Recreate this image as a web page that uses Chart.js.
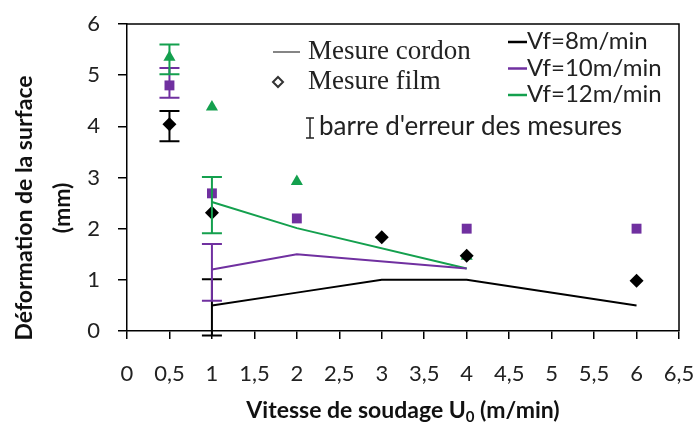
<!DOCTYPE html>
<html>
<head>
<meta charset="utf-8">
<script src="https://cdn.jsdelivr.net/npm/chart.js@4.4.1/dist/chart.umd.min.js"></script>
<style>
  html, body { margin: 0; padding: 0; background: #fff; }
  #wrap { width: 696px; height: 424px; }
</style>
</head>
<body>
<div id="wrap"><canvas id="myChart" width="696" height="424"></canvas></div>
<script>
// surface deformation vs welding speed, one colour per wire feed speed

const seriesNames = ['Vf=8m/min', 'Vf=10m/min', 'Vf=12m/min'];
const seriesColors = ['#000000', '#7030a0', '#14a04e'];

// "Mesure cordon" lines
const cordonX8 = [1, 2, 3, 4, 6];
const cordonY8 = [0.5, 0.75, 1.0, 1.0, 0.5];
const cordonX10 = [1, 2, 4];
const cordonY10 = [1.2, 1.5, 1.22];
const cordonX12 = [1, 2, 4];
const cordonY12 = [2.52, 2.01, 1.22];

// "Mesure film" points
const filmX8 = [0.5, 1, 3, 4, 6];
const filmY8 = [4.04, 2.31, 1.83, 1.47, 0.98];
const filmX10 = [0.5, 1, 2, 4, 6];
const filmY10 = [4.8, 2.69, 2.2, 2.0, 2.0];
const filmX12 = [0.5, 1, 2, 4];
const filmY12 = [5.35, 4.38, 2.92, 1.46];

// error bars: x, low, high, series index
const errX = [0.5, 0.5, 0.5, 1, 1, 1];
const errLow = [3.71, 4.56, 5.02, -0.09, 0.59, 1.91];
const errHigh = [4.3, 5.14, 5.6, 1.01, 1.7, 3.01];
const errSeries = [0, 1, 2, 0, 1, 2];

const xMin = 0, xMax = 6.5, xStep = 0.5;
const yMin = 0, yMax = 6, yStep = 1;

function pts(xs, ys) {
    return xs.map((x, i) => ({ x: x, y: ys[i] }));
}

const tickFont = { family: 'Lato', size: 22 };

function noPad(s) {
    s.paddingLeft = 0; s.paddingRight = 0;
    s.paddingTop = 0; s.paddingBottom = 0;
}

const errorBars = {
    id: 'errorBars',
    afterDatasetsDraw(chart) {
        const ctx = chart.ctx;
        const xs = chart.scales.x, ys = chart.scales.y;
        ctx.save();
        ctx.lineWidth = 2;
        errX.forEach((x, i) => {
            const px = xs.getPixelForValue(x);
            const top = ys.getPixelForValue(errHigh[i]);
            const bot = ys.getPixelForValue(errLow[i]);
            ctx.strokeStyle = seriesColors[errSeries[i]];
            ctx.beginPath();
            ctx.moveTo(px, top); ctx.lineTo(px, bot);
            ctx.moveTo(px - 10, top); ctx.lineTo(px + 10, top);
            ctx.moveTo(px - 10, bot); ctx.lineTo(px + 10, bot);
            ctx.stroke();
        });
        ctx.restore();
    }
};

const annotations = {
    id: 'annotations',
    afterDraw(chart) {
        const ctx = chart.ctx;
        const a = chart.chartArea;
        ctx.save();

        // frame top and right
        ctx.strokeStyle = '#000';
        ctx.lineWidth = 1.5;
        ctx.beginPath();
        ctx.moveTo(a.left, a.top); ctx.lineTo(a.right, a.top); ctx.lineTo(a.right, a.bottom);
        ctx.stroke();

        // legend, left block
        ctx.fillStyle = '#222';
        ctx.strokeStyle = '#333';
        ctx.lineWidth = 1.2;
        ctx.beginPath();
        ctx.moveTo(273, 52); ctx.lineTo(300, 52);
        ctx.stroke();
        ctx.lineWidth = 2;
        ctx.beginPath();
        ctx.moveTo(278, 77); ctx.lineTo(283, 82); ctx.lineTo(278, 87); ctx.lineTo(273, 82); ctx.closePath();
        ctx.stroke();
        ctx.font = '27px "Liberation Serif"';
        ctx.textBaseline = 'alphabetic';
        ctx.textAlign = 'left';
        ctx.fillText('Mesure cordon', 308, 59);
        ctx.fillText('Mesure film', 308, 89);

        ctx.lineWidth = 1.5;
        ctx.strokeStyle = '#222';
        ctx.beginPath();
        ctx.moveTo(310, 118); ctx.lineTo(310, 138);
        ctx.moveTo(306, 118); ctx.lineTo(314, 118);
        ctx.moveTo(306, 138); ctx.lineTo(314, 138);
        ctx.stroke();
        ctx.font = '26px Lato';
        ctx.fillText("barre d'erreur des mesures", 319, 135);

        // legend, series
        ctx.font = '24px Lato';
        ctx.lineWidth = 2.5;
        seriesNames.forEach((name, i) => {
            const y = 42 + i * 26.5;
            ctx.strokeStyle = seriesColors[i];
            ctx.beginPath();
            ctx.moveTo(508, y); ctx.lineTo(527, y);
            ctx.stroke();
            ctx.fillStyle = '#222';
            ctx.fillText(name, 527, y + 7);
        });

        // axis titles
        ctx.fillStyle = '#111';
        ctx.font = 'bold 23px Lato';
        ctx.textAlign = 'center';
        ctx.textBaseline = 'middle';
        ctx.save();
        ctx.translate(25, 208);
        ctx.rotate(-Math.PI / 2);
        ctx.fillText('Déformation de la surface', 0, 0);
        ctx.restore();
        ctx.save();
        ctx.translate(63, 208);
        ctx.rotate(-Math.PI / 2);
        ctx.fillText('(mm)', 0, 0);
        ctx.restore();

        // x title with subscript
        const partA = 'Vitesse de soudage U';
        const partSub = '0';
        const partB = ' (m/min)';
        ctx.textAlign = 'left';
        ctx.textBaseline = 'alphabetic';
        ctx.font = 'bold 23px Lato';
        const wA = ctx.measureText(partA).width;
        const wB = ctx.measureText(partB).width;
        ctx.font = 'bold 15px Lato';
        const wS = ctx.measureText(partSub).width;
        let x0 = (a.left + a.right) / 2 - (wA + wS + wB) / 2;
        ctx.font = 'bold 23px Lato';
        ctx.fillText(partA, x0, 418);
        ctx.font = 'bold 15px Lato';
        ctx.fillText(partSub, x0 + wA, 422);
        ctx.font = 'bold 23px Lato';
        ctx.fillText(partB, x0 + wA + wS, 418);

        ctx.restore();
    }
};

const ctx = document.getElementById('myChart').getContext('2d');
new Chart(ctx, {
    type: 'scatter',
    data: {
        datasets: [
            { data: pts(cordonX8, cordonY8), showLine: true, borderColor: seriesColors[0], borderWidth: 2, pointRadius: 0 },
            { data: pts(cordonX10, cordonY10), showLine: true, borderColor: seriesColors[1], borderWidth: 2, pointRadius: 0 },
            { data: pts(cordonX12, cordonY12), showLine: true, borderColor: seriesColors[2], borderWidth: 2, pointRadius: 0 },
            { data: pts(filmX8, filmY8), pointStyle: 'rectRot', pointRadius: 7, backgroundColor: seriesColors[0], borderWidth: 0 },
            { data: pts(filmX10, filmY10), pointStyle: 'rect', pointRadius: 7, backgroundColor: seriesColors[1], borderWidth: 0 },
            { data: pts(filmX12, filmY12), pointStyle: 'triangle', pointRadius: 7, backgroundColor: seriesColors[2], borderWidth: 0 }
        ]
    },
    options: {
        responsive: false,
        animation: false,
        events: [],
        layout: { padding: { top: 24, right: 17, left: 0, bottom: 0 } },
        plugins: { legend: { display: false }, tooltip: { enabled: false } },
        scales: {
            x: {
                type: 'linear',
                min: xMin, max: xMax,
                afterFit: s => { s.height = 93; noPad(s); },
                ticks: {
                    stepSize: xStep,
                    font: tickFont, color: '#222', padding: 22,
                    callback: v => String(v).replace('.', ',')
                },
                grid: { drawOnChartArea: false, tickLength: 8, color: '#000', lineWidth: 1.5 },
                border: { color: '#000', width: 1.5 }
            },
            y: {
                min: yMin, max: yMax,
                afterFit: s => { s.width = 127; noPad(s); },
                ticks: { stepSize: yStep, font: tickFont, color: '#222', padding: 18 },
                grid: { drawOnChartArea: false, tickLength: 9, color: '#000', lineWidth: 1.5 },
                border: { color: '#000', width: 1.5 }
            }
        }
    },
    plugins: [errorBars, annotations]
});
</script>
</body>
</html>
